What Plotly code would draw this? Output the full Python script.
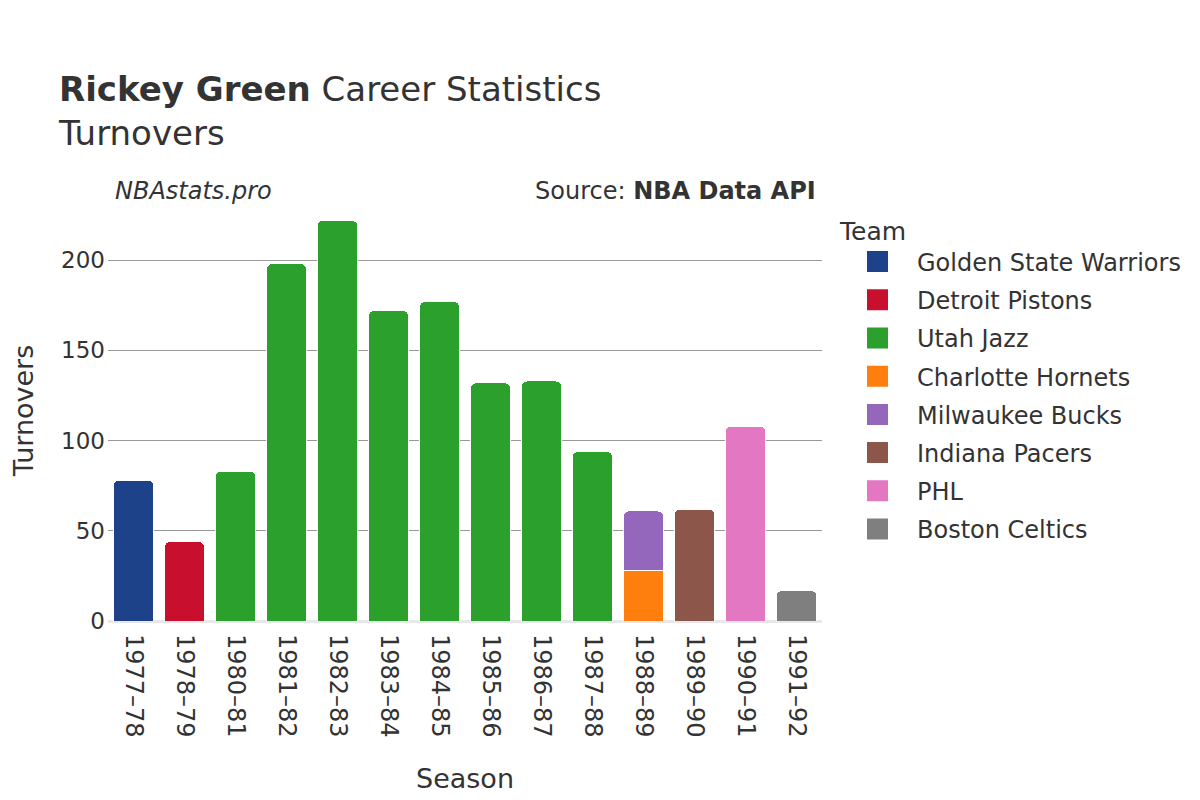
import plotly.graph_objects as go

seasons = ["1977–78", "1978–79", "1980–81", "1981–82", "1982–83", "1983–84", "1984–85",
           "1985–86", "1986–87", "1987–88", "1988–89", "1989–90", "1990–91", "1991–92"]

teams = ["Golden State Warriors", "Detroit Pistons", "Utah Jazz", "Charlotte Hornets",
         "Milwaukee Bucks", "Indiana Pacers", "PHL", "Boston Celtics"]
colors = ["#1d428a", "#c8102e", "#2ca02c", "#ff7f0e", "#9467bd", "#8c564b", "#e377c2", "#7f7f7f"]

team_seasons = {
    "Golden State Warriors": ["1977–78"],
    "Detroit Pistons": ["1978–79"],
    "Utah Jazz": ["1980–81", "1981–82", "1982–83", "1983–84", "1984–85", "1985–86", "1986–87", "1987–88"],
    "Charlotte Hornets": ["1988–89"],
    "Milwaukee Bucks": ["1988–89"],
    "Indiana Pacers": ["1989–90"],
    "PHL": ["1990–91"],
    "Boston Celtics": ["1991–92"],
}
team_turnovers = {
    "Golden State Warriors": [78],
    "Detroit Pistons": [44],
    "Utah Jazz": [83, 198, 222, 172, 177, 132, 133, 94],
    "Charlotte Hornets": [28],
    "Milwaukee Bucks": [33],
    "Indiana Pacers": [62],
    "PHL": [108],
    "Boston Celtics": [17],
}

FONT = "DejaVu Sans"
OFF = 8  # page body margin
# plot area in page pixels (as seen in the picture)
L, R, T, B = 108, 822, 200, 621
W, H = 1200, 800
ml, mr, mt, mb = L - OFF, W - R + OFF, T - OFF, H - B + OFF

fig = go.Figure()
for team, color in zip(teams, colors):
    fig.add_trace(go.Bar(
        x=team_seasons[team], y=team_turnovers[team], name=team,
        legendgroup=team, showlegend=False,
        marker=dict(color=color, line=dict(color="white", width=1), cornerradius=6),
    ))
# legend entries (larger square swatches)
for team, color in zip(teams, colors):
    fig.add_trace(go.Scatter(
        x=[None], y=[None], name=team, legendgroup=team, mode="markers",
        marker=dict(symbol="square", size=16, color=color, line=dict(color=color, width=5)),
    ))

fig.update_layout(
    width=W, height=H,
    barmode="stack", bargap=0.2,
    plot_bgcolor="white", paper_bgcolor="white",
    font=dict(family=FONT, color="#333333", size=23),
    margin=dict(l=ml, r=mr, t=mt, b=mb, autoexpand=False),
    title=dict(text="<b>Rickey Green</b> Career Statistics<br>Turnovers",
               x=51/W, xanchor="left", y=1-93/H, yanchor="middle",
               font=dict(size=34, family=FONT, color="#333333")),
    xaxis=dict(title=dict(text="Season", font=dict(size=27), standoff=32),
               automargin=False, ticklabelstandoff=12,
               categoryorder="array", categoryarray=seasons,
               tickangle=90, tickfont=dict(size=24), showgrid=False, ticks=""),
    yaxis=dict(title=dict(text="Turnovers", font=dict(size=27), standoff=39),
               automargin=False, ticklabelstandoff=2,
               range=[0, (B - T) / ((B - 260) / 200)], dtick=50,
               gridcolor="#999999", gridwidth=1,
               zeroline=True, zerolinecolor="#e8e8e8", zerolinewidth=3,
               tickfont=dict(size=23)),
    legend=dict(title=dict(text="Team", font=dict(size=25)), font=dict(size=24),
                traceorder="grouped", tracegroupgap=4, itemwidth=69,
                x=(838 - L) / (R - L), xanchor="left", y=1.0 - 7 / (B - T), yanchor="top"),
    annotations=[
        dict(text="<i>NBAstats.pro</i>", x=(113 - L) / (R - L), y=(B - 191) / (B - T),
             xref="paper", yref="paper", xanchor="left", yanchor="middle",
             showarrow=False, font=dict(size=24)),
        dict(text="Source: <b>NBA Data API</b>", x=(818 - L) / (R - L), y=(B - 191) / (B - T),
             xref="paper", yref="paper", xanchor="right", yanchor="middle",
             showarrow=False, font=dict(size=24)),
    ],
)

fig.write_html("out.html")
